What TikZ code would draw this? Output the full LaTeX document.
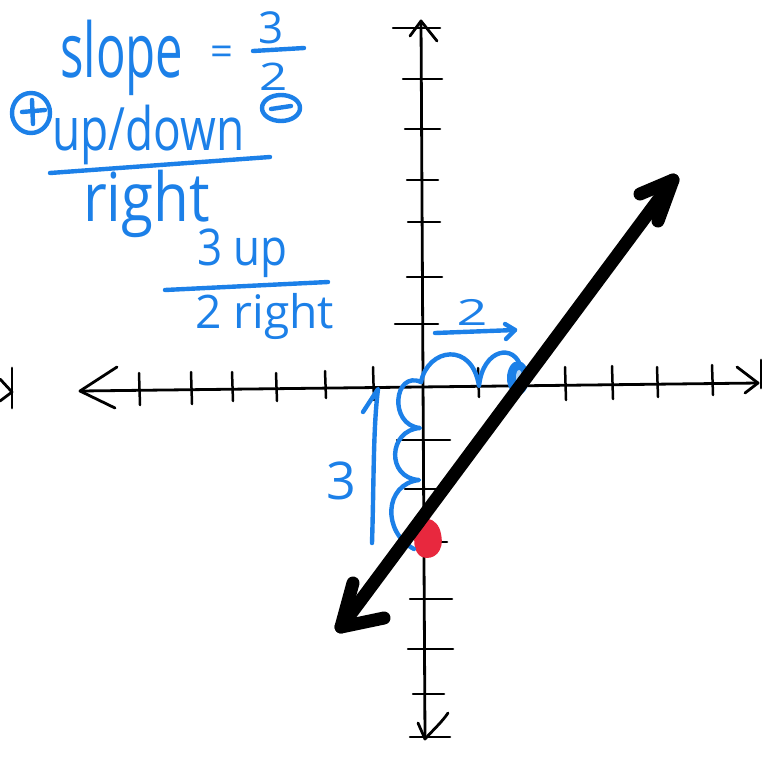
\documentclass[tikz,border=0pt]{standalone}
\usepackage{fontspec}
\setmainfont{Open Sans}
\usepackage{graphicx}
\definecolor{pen}{RGB}{28,128,232}
\definecolor{redpen}{RGB}{232,40,62}
\newcommand{\hwtext}[4]{\scalebox{#2}[#3]{\fontsize{#1}{#1}\selectfont #4}}
\begin{document}
\begin{tikzpicture}[x=1pt,y=-1pt,
  axisline/.style={line width=2.8pt, line cap=round, line join=round, black},
  tickline/.style={line width=2.5pt, line cap=round, black},
  bigline/.style={line width=13pt, line cap=round, line join=round, black},
  penline/.style={draw=pen, line width=4.4pt, line cap=round, line join=round},
  hw/.style={text=pen, inner sep=0pt, anchor=base west},
  hwc/.style={text=pen, inner sep=0pt, anchor=center}]
\useasboundingbox (0,0) rectangle (783,761);

% ---------- axes ----------
\coordinate (xl) at (80,391);
\coordinate (xr) at (758,383);
\coordinate (yt) at (421,21);
\coordinate (yb) at (425,739);
\draw[axisline] (xl) -- (xr);
\draw[axisline] (yt) -- (yb);
% axis arrowheads
\draw[axisline] (117,367) -- (xl) -- (115,408);
\draw[axisline] (737,367) -- (xr) -- (745,393);
\draw[axisline] (761,360) -- (761,388);
\draw[axisline] (410,36) -- (yt) -- (437,41);
\draw[axisline] (418,723) -- (yb) .. controls (433,730) and (442,722) .. (448,713);
% stray mark at left edge
\draw[axisline] (12,368) -- (12,408);
\draw[axisline] (0,379) -- (12,392) -- (0,401);

% x ticks
\foreach \x/\a/\b in {139/373/405, 191/372/404, 232/372/401, 276/373/401, 325/371/398, 373/367/400,
                      478/368/397, 565/367/400, 612/366/399, 657/367/397, 712/365/395}
  \draw[tickline] (\x,\a) -- (\x+1,\b);
% y ticks
\foreach \l/\r/\y in {393/440/28, 403/442/79, 405/440/129, 407/438/180, 408/440/222, 407/442/277, 395/438/324,
                      397/450/440, 405/438/489, 423/447/542, 410/452/599, 408/453/649, 413/444/694, 410/450/737}
  \draw[tickline] (\l,\y) -- (\r,\y);

% ---------- red point ----------
\fill[redpen] (416,527) .. controls (419,514) and (438,516) .. (441,534)
  .. controls (445,552) and (433,561) .. (422,557)
  .. controls (413,553) and (413,538) .. (416,527) -- cycle;

% ---------- blue marks on the axes ----------
\draw[penline] (421,382) .. controls (428,348) and (472,341) .. (479,386)
  .. controls (483,348) and (515,343) .. (521,368);
\fill[pen] (518,378) ellipse [x radius=11, y radius=17];
\fill[white!65!pen] (519,377) ellipse [x radius=3, y radius=7];
\draw[penline] (421,382) .. controls (394,370) and (388,425) .. (420,428)
  .. controls (388,430) and (386,478) .. (419,480)
  .. controls (384,484) and (382,532) .. (414,549);
\draw[penline] (372,543) .. controls (374,480) and (373,430) .. (378,389) -- (363,412);
\node[hwc] (three) at (341,481) {\hwtext{52}{1}{1}{3}};
\node[hwc] (two) at (472,312) {\hwtext{36}{1.5}{1}{2}};
\coordinate (ra) at (435,333);
\coordinate (rb) at (515,330);
\draw[penline] (ra) -- (rb);
\draw[penline] (505,324) -- (rb) -- (506,339);

% ---------- the line ----------
\coordinate (la) at (341,627);
\coordinate (lb) at (673,180);
\draw[bigline] (la) -- (lb);
\draw[bigline] (353,583) -- (la) -- (384,618);
\draw[bigline] (640,194) -- (lb) -- (658,221);

% ---------- notes ----------
\node[hw] (slope) at (60,77) {\hwtext{63}{0.78}{1.2}{slope}};
\node[hwc] (eq) at (222,56) {\hwtext{40}{1}{1}{=}};
\node[hwc] (num) at (271,28) {\hwtext{44}{1}{1}{3}};
\draw[penline] (253,51) -- (304,48);
\node[hwc] (den) at (274,77) {\hwtext{38}{1.3}{1}{2}};
\draw[penline] (281,108) ellipse [x radius=19, y radius=13];
\draw[penline] (271,109) -- (291,106);
\draw[penline] (31,113) ellipse [x radius=19, y radius=20];
\draw[penline] (22,112) -- (45,110);
\draw[penline] (32,100) -- (33,124);
\node[hw] (updown) at (52,150) {\hwtext{46}{1}{1.3}{up/down}};
\draw[penline] (50,173) -- (270,157);
\node[hw] (right) at (83,221) {\hwtext{52}{1.12}{1.3}{right}};
\node[hw] (threeup) at (197,265) {\hwtext{44}{1}{1.15}{3 up}};
\draw[penline] (165,290) -- (328,282);
\node[hw] (tworight) at (195,328) {\hwtext{42}{1.1}{1.1}{2 right}};
\end{tikzpicture}
\end{document}
